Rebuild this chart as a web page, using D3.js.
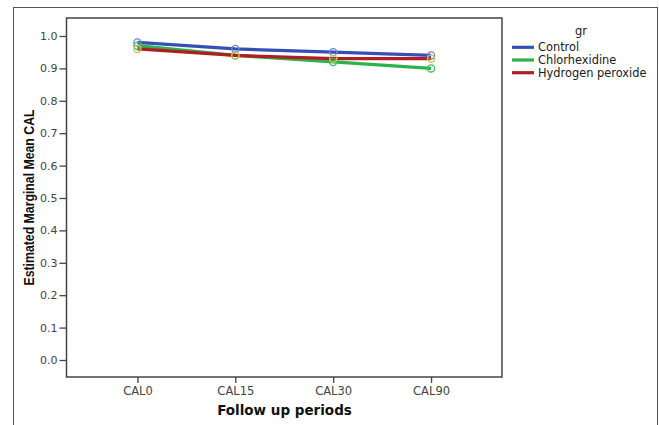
<!DOCTYPE html>
<html><head><meta charset="utf-8">
<script src="https://cdn.jsdelivr.net/npm/d3@7/dist/d3.min.js"></script>
<style>body{margin:0;background:#fff}svg{display:block}</style>
</head><body>
<svg id="c" width="659" height="425"></svg>
<script>
const categories = ["CAL0","CAL15","CAL30","CAL90"];
const seriesNames = ["Control","Chlorhexidine","Hydrogen peroxide"];
const control = [0.98,0.96,0.95,0.94];
const chlorhexidine = [0.97,0.94,0.92,0.90];
const hydrogenPeroxide = [0.96,0.94,0.93,0.93];
const yTicks = [0.0,0.1,0.2,0.3,0.4,0.5,0.6,0.7,0.8,0.9,1.0];
const lineColors = ["#3550b5","#2db34a","#b01d22"];
const markerColors = ["#6f86d6","#3fbf5a","#c9c25a"];

const series = [control, chlorhexidine, hydrogenPeroxide];
const svg = d3.select("#c");
const L=66.5, R=502, T=18, B=377;

svg.append("rect").attr("x",13.5).attr("y",7.5).attr("width",644).attr("height",430)
  .attr("fill","none").attr("stroke","#555").attr("stroke-width",1);

const x = d3.scalePoint().domain(categories).range([L,R]).padding(0.725);
const y = d3.scaleLinear().domain([-0.0525,1.0555]).range([B,T]);

svg.append("rect").attr("x",L).attr("y",T).attr("width",R-L).attr("height",B-T)
  .attr("fill","#fff").attr("stroke","#444").attr("stroke-width",1.5);

const yAxis = svg.append("g").attr("transform",`translate(${L},0)`)
  .call(d3.axisLeft(y).tickValues(yTicks).tickFormat(d3.format(".1f")).tickSize(7).tickPadding(2));
yAxis.select(".domain").remove();
yAxis.selectAll("line").attr("stroke","#444").attr("stroke-width",1.3);
yAxis.selectAll("text").attr("font-family","DejaVu Sans").attr("font-size",11).attr("fill","#444");

const xAxis = svg.append("g").attr("transform",`translate(0,${B})`)
  .call(d3.axisBottom(x).tickSize(6).tickPadding(4));
xAxis.select(".domain").remove();
xAxis.selectAll("line").attr("stroke","#444").attr("stroke-width",1.3).attr("y1",0).attr("y2",6);
xAxis.selectAll("text").attr("font-family","DejaVu Sans").attr("font-size",11.5).attr("fill","#444");

svg.append("text").attr("x",284.5).attr("y",415).attr("text-anchor","middle")
  .attr("font-family","DejaVu Sans").attr("font-weight","bold").attr("font-size",13.5).attr("fill","#111")
  .text("Follow up periods");
svg.append("text").attr("transform","translate(33.5,197.5) rotate(-90)").attr("text-anchor","middle")
  .attr("font-family","'Liberation Sans',Arial,sans-serif").attr("font-weight","bold")
  .attr("font-size",15).attr("fill","#111")
  .attr("textLength",176).attr("lengthAdjust","spacingAndGlyphs")
  .text("Estimated Marginal Mean CAL");

const line = d3.line().x((d,i)=>x(categories[i])).y(d=>y(d));
series.forEach((s,k)=>{
  svg.append("path").datum(s).attr("d",line).attr("fill","none")
    .attr("stroke",lineColors[k]).attr("stroke-width",3.2);
});
series.forEach((s,k)=>{
  svg.selectAll(null).data(s).enter().append("circle")
    .attr("cx",(d,i)=>x(categories[i])).attr("cy",d=>y(d)).attr("r",3.6)
    .attr("fill","none").attr("stroke",markerColors[k]).attr("stroke-width",1.3);
});

svg.append("text").attr("x",581).attr("y",35).attr("text-anchor","middle")
  .attr("font-family","DejaVu Sans").attr("font-size",11.5).attr("fill","#222").text("gr");
seriesNames.forEach((n,k)=>{
  const yy = 47.3 + k*12.7;
  svg.append("line").attr("x1",512).attr("x2",534).attr("y1",yy).attr("y2",yy)
    .attr("stroke",lineColors[k]).attr("stroke-width",3.2);
  svg.append("text").attr("x",538).attr("y",yy+4).attr("font-family","DejaVu Sans")
    .attr("font-size",11.4).attr("fill","#1a1a1a").text(n);
});
</script>
</body></html>
